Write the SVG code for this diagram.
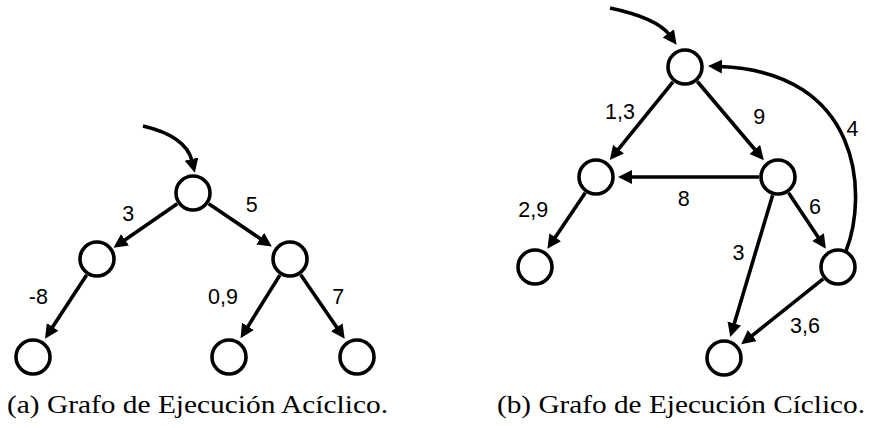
<svg xmlns="http://www.w3.org/2000/svg" width="872" height="428" viewBox="0 0 872 428">
  <style>
    .node { fill: #fff; stroke: #000; stroke-width: 3.6; }
    .edge { fill: none; stroke: #000; stroke-width: 3.6; marker-end: url(#arrow); }
    .lbl { font-family: "Liberation Sans", Arial, sans-serif; font-size: 21.5px; fill: #000; text-anchor: middle; }
    .cap { font-family: "Liberation Serif", "Times New Roman", serif; font-size: 26px; fill: #000; }
  </style>
  <defs>
    <marker id="arrow" markerUnits="userSpaceOnUse" markerWidth="15" markerHeight="15" refX="2" refY="7" orient="auto">
      <path d="M0,0 L14,7 L0,14 z" fill="#000"/>
    </marker>
  </defs>

  <g id="connectors">
    <!-- left graph -->
    <path class="edge" d="M143,126 Q186,136 192,161"/>
    <path class="edge" d="M177.3,203.8 L123.4,240.9"/>
    <path class="edge" d="M208.7,203.7 L261.9,239.8"/>
    <path class="edge" d="M86.6,274.9 L51.6,328.6"/>
    <path class="edge" d="M279.9,275.1 L246.9,328.1"/>
    <path class="edge" d="M300.7,274.7 L337.9,328.9"/>
    <!-- right graph -->
    <path class="edge" d="M610,8 Q657,18 669.5,35"/>
    <path class="edge" d="M673,81.8 L617.3,150.6"/>
    <path class="edge" d="M697.3,81.5 L756.1,151"/>
    <path class="edge" d="M759,177 L630,177"/>
    <path class="edge" d="M585.3,192.7 L554.1,238.9"/>
    <path class="edge" d="M788.5,192.8 L819.2,238.7"/>
    <path class="edge" d="M772.6,195.2 L733.7,325.4"/>
    <path class="edge" d="M823.2,278.9 L750.6,336.8"/>
    <path class="edge" d="M846,251 C868,195 862,72 720,66.5"/>
  </g>

  <g id="labels">
    <text class="lbl" x="128.3" y="220.5">3</text>
    <text class="lbl" x="251.7" y="212">5</text>
    <text class="lbl" x="38.3" y="304">-8</text>
    <text class="lbl" x="223" y="304">0,9</text>
    <text class="lbl" x="338.3" y="304">7</text>
    <text class="lbl" x="620" y="118.5">1,3</text>
    <text class="lbl" x="759.3" y="124">9</text>
    <text class="lbl" x="852.5" y="135.5">4</text>
    <text class="lbl" x="683.7" y="205.5">8</text>
    <text class="lbl" x="533.3" y="217">2,9</text>
    <text class="lbl" x="815" y="214">6</text>
    <text class="lbl" x="738.5" y="260">3</text>
    <text class="lbl" x="805" y="333">3,6</text>
  </g>

  <g id="a-root"><circle class="node" cx="193" cy="193" r="17"/></g>
  <g id="a-l1"><circle class="node" cx="97" cy="259" r="17"/></g>
  <g id="a-r1"><circle class="node" cx="290" cy="259" r="17"/></g>
  <g id="a-b1"><circle class="node" cx="33" cy="357" r="17"/></g>
  <g id="a-b2"><circle class="node" cx="229" cy="357" r="17"/></g>
  <g id="a-b3"><circle class="node" cx="357" cy="357" r="17"/></g>

  <g id="b-top"><circle class="node" cx="685" cy="67" r="17"/></g>
  <g id="b-ml"><circle class="node" cx="596" cy="177" r="17"/></g>
  <g id="b-mr"><circle class="node" cx="778" cy="177" r="17"/></g>
  <g id="b-bl"><circle class="node" cx="535" cy="267" r="17"/></g>
  <g id="b-rr"><circle class="node" cx="838" cy="267" r="17"/></g>
  <g id="b-bb"><circle class="node" cx="724" cy="358" r="17"/></g>

  <g id="captions">
    <text class="cap" x="7" y="413" textLength="381" lengthAdjust="spacingAndGlyphs">(a) Grafo de Ejecución Acíclico.</text>
    <text class="cap" x="497" y="413" textLength="368" lengthAdjust="spacingAndGlyphs">(b) Grafo de Ejecución Cíclico.</text>
  </g>
</svg>
